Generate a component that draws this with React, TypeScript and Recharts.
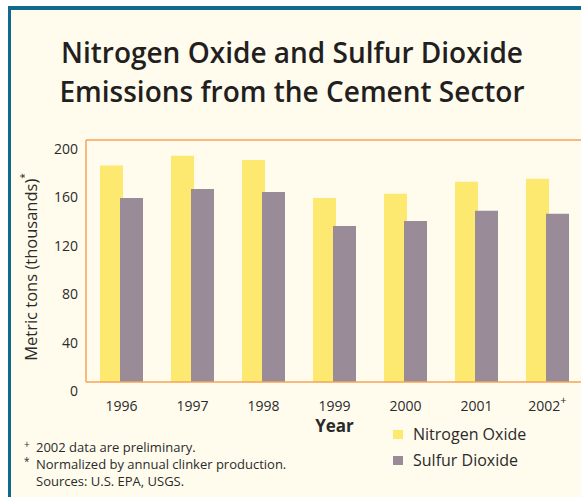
import React from 'react';
import { BarChart, Bar, XAxis, YAxis, ReferenceLine } from 'recharts';

const years = ['1996', '1997', '1998', '1999', '2000', '2001', '2002'];
const nitrogenOxide = [179, 187, 183.5, 152, 155.5, 165.5, 168];
const sulfurDioxide = [152, 159.5, 157, 129, 133, 141.5, 139];
const yTicks = [0, 40, 80, 120, 160, 200];
const preliminaryYears = ['2002'];

const data = years.map((year, i) => ({
    year,
    nox: nitrogenOxide[i],
    so2: sulfurDioxide[i],
}));

const FONT = '"Open Sans", "Noto Sans", sans-serif';
const TEXT = '#2b2a2a';
const ORANGE = '#f6a456';
const YELLOW = '#fde870';
const GREY = '#998c98';
const BLUE = '#12698f';
const CREAM = '#fffcee';

const YTick = ({ x, y, payload }: any) => (
    <text x={x} y={y + 9} dy={5} textAnchor="end" fontSize={14} fill={TEXT} fontFamily={FONT}>
        {payload.value}
    </text>
);

const XTick = ({ x, y, payload }: any) => (
    <text x={x} y={y + 21} textAnchor="middle" fontSize={14} fill={TEXT} fontFamily={FONT}>
        {payload.value}
        {preliminaryYears.includes(payload.value) && (
            <tspan dy={-7} fontSize={11}>+</tspan>
        )}
    </text>
);

const legendItems = [
    { label: 'Nitrogen Oxide', color: YELLOW },
    { label: 'Sulfur Dioxide', color: GREY },
];

const ChartLegend = () => (
    <div style={{ fontFamily: FONT }}>
        {legendItems.map((item) => (
            <div key={item.label} style={{ display: 'flex', alignItems: 'center', height: 26 }}>
                <div style={{ width: 10, height: 9, background: item.color, marginRight: 10 }} />
                <span style={{ fontSize: 16, color: TEXT }}>{item.label}</span>
            </div>
        ))}
    </div>
);

const supStyle: React.CSSProperties = {
    display: 'inline-block',
    width: 12,
    fontSize: 10,
    lineHeight: 0,
    verticalAlign: 'top',
    position: 'relative',
    top: 5,
};

export default function App() {
    return (
        <div
            style={{
                position: 'absolute',
                left: 0,
                top: 0,
                width: 581,
                height: 497,
                overflow: 'hidden',
                background: '#fff',
                fontFamily: FONT,
            }}
        >
            <div
                style={{
                    position: 'absolute',
                    left: 8,
                    top: 6,
                    width: 600,
                    height: 520,
                    background: CREAM,
                    borderLeft: `3px solid ${BLUE}`,
                    borderTop: `4px solid ${BLUE}`,
                }}
            />
            <div
                style={{
                    position: 'absolute',
                    left: 0,
                    top: 33,
                    width: 584,
                    textAlign: 'center',
                    fontSize: 28,
                    lineHeight: '39px',
                    fontWeight: 600,
                    color: '#231f20',
                }}
            >
                Nitrogen Oxide and Sulfur Dioxide
                <br />
                Emissions from the Cement Sector
            </div>
            <div style={{ position: 'absolute', left: 0, top: 0 }}>
                <BarChart
                    width={600}
                    height={497}
                    data={data}
                    margin={{ top: 140, right: 17, left: 0, bottom: 65 }}
                    barSize={23}
                    barGap={-3}
                >
                    <XAxis
                        dataKey="year"
                        height={50}
                        axisLine={{ stroke: ORANGE, strokeWidth: 1.5 }}
                        tickLine={false}
                        tick={<XTick />}
                        interval={0}
                        label={({ viewBox }: any) => (
                            <text
                                x={viewBox.x + viewBox.width / 2}
                                y={viewBox.y + 50}
                                textAnchor="middle"
                                fontSize={17}
                                fontWeight={700}
                                fill={TEXT}
                                fontFamily={FONT}
                            >
                                Year
                            </text>
                        )}
                    />
                    <YAxis
                        width={86}
                        domain={[0, 200]}
                        ticks={yTicks}
                        axisLine={{ stroke: ORANGE, strokeWidth: 1.5 }}
                        tickLine={false}
                        tick={<YTick />}
                        label={({ viewBox }: any) => (
                            <text
                                x={viewBox.x + 30}
                                y={viewBox.y + viewBox.height / 2 + 6}
                                transform={`rotate(-90 ${viewBox.x + 30} ${viewBox.y + viewBox.height / 2 + 6})`}
                                textAnchor="middle"
                                dominantBaseline="central"
                                fontSize={16.5}
                                fill={TEXT}
                                fontFamily={FONT}
                            >
                                Metric tons (thousands)
                                <tspan dy={-6} fontSize={10}>*</tspan>
                            </text>
                        )}
                    />
                    <ReferenceLine y={200} stroke={ORANGE} strokeWidth={1.5} />
                    <Bar dataKey="nox" name="Nitrogen Oxide" fill={YELLOW} isAnimationActive={false} />
                    <Bar dataKey="so2" name="Sulfur Dioxide" fill={GREY} isAnimationActive={false} />
                </BarChart>
            </div>
            <div style={{ position: 'absolute', left: 393, top: 421 }}>
                <ChartLegend />
            </div>
            <div
                style={{
                    position: 'absolute',
                    left: 24,
                    top: 439,
                    fontSize: 13,
                    lineHeight: '17px',
                    color: TEXT,
                }}
            >
                <div>
                    <span style={supStyle}>+</span>
                    2002 data are preliminary.
                </div>
                <div>
                    <span style={supStyle}>*</span>
                    Normalized by annual clinker production.
                </div>
                <div style={{ paddingLeft: 12 }}>Sources: U.S. EPA, USGS.</div>
            </div>
        </div>
    );
}
